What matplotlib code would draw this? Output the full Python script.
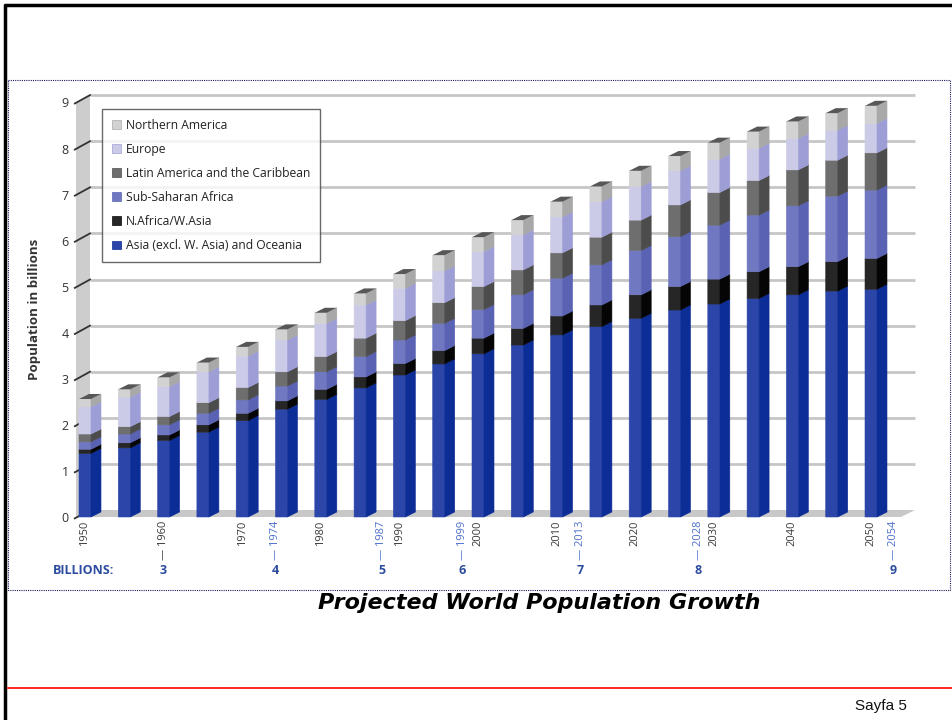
import matplotlib
matplotlib.use("Agg")
import matplotlib.pyplot as plt
from matplotlib.patches import Polygon, Patch, Rectangle

# ---- data (billions) ----
years = list(range(1950, 2051, 5))
asia_oceania = [1.38, 1.50, 1.66, 1.84, 2.09, 2.34, 2.55, 2.80, 3.08, 3.32, 3.54,
                3.73, 3.95, 4.13, 4.31, 4.49, 4.62, 4.74, 4.82, 4.90, 4.94]
nafrica_wasia = [0.09, 0.11, 0.12, 0.16, 0.16, 0.18, 0.22, 0.24, 0.25, 0.29, 0.34,
                 0.36, 0.41, 0.47, 0.51, 0.51, 0.54, 0.58, 0.61, 0.64, 0.67]
subsaharan = [0.16, 0.19, 0.22, 0.25, 0.29, 0.32, 0.38, 0.44, 0.51, 0.59, 0.62,
              0.73, 0.82, 0.87, 0.96, 1.08, 1.17, 1.23, 1.32, 1.42, 1.48]
latin_america = [0.17, 0.16, 0.18, 0.23, 0.27, 0.31, 0.33, 0.40, 0.42, 0.45, 0.50,
                 0.54, 0.55, 0.60, 0.66, 0.69, 0.71, 0.75, 0.78, 0.78, 0.81]
europe = [0.59, 0.64, 0.65, 0.67, 0.68, 0.69, 0.72, 0.72, 0.70, 0.69, 0.76,
          0.76, 0.78, 0.77, 0.73, 0.74, 0.72, 0.70, 0.68, 0.65, 0.64]
northern_america = [0.17, 0.17, 0.20, 0.20, 0.20, 0.23, 0.23, 0.25, 0.31, 0.34, 0.31,
                    0.32, 0.33, 0.33, 0.34, 0.32, 0.36, 0.36, 0.37, 0.37, 0.38]

series = [asia_oceania, nafrica_wasia, subsaharan, latin_america, europe, northern_america]
series_names = ["Asia (excl. W. Asia) and Oceania", "N.Africa/W.Asia", "Sub-Saharan Africa",
                "Latin America and the Caribbean", "Europe", "Northern America"]
front_colors = ["#2b45a8", "#262626", "#7078c2", "#6e6e6e", "#cbcbe8", "#d2d2d2"]
side_colors = ["#0c2c96", "#050505", "#5a62b4", "#4c4c4c", "#9e9ed6", "#a8a8a8"]

year_ticks = list(range(1950, 2051, 10))
milestone_years = [1960, 1974, 1987, 1999, 2013, 2028, 2054]
milestone_billions = [3, 4, 5, 6, 7, 8, 9]
y_ticks = list(range(0, 10))

# horizontal nudges (pixels) that keep milestone labels clear of year labels
milestone_nudge_px = {1974: 2, 1987: 6, 1999: -8, 2054: -9}

# ---- figure / slide ----
W, H = 953, 720
fig = plt.figure(figsize=(W / 100, H / 100), dpi=100)
fig.patch.set_facecolor("white")

deco = fig.add_axes([0, 0, 1, 1])
deco.set_xlim(0, W)
deco.set_ylim(H, 0)
deco.axis("off")
deco.plot([4, W], [5, 5], color="black", lw=2.5, solid_capstyle="butt")
deco.plot([5, 5], [4, H], color="black", lw=2.5, solid_capstyle="butt")
deco.add_patch(Rectangle((8, 80), 942, 510, fill=False, ls=(0, (1, 1)),
                         ec="#1a1a60", lw=0.8))
deco.plot([8, W], [688, 688], color="#ff0000", lw=1.2)
deco.text(539, 603, "Projected World Population Growth", fontsize=16,
          fontweight="bold", style="italic", ha="center", va="center",
          family="DejaVu Sans", color="black")
deco.text(881, 706, "Sayfa 5", fontsize=11, family="Liberation Sans",
          ha="center", va="center", color="#111111")

# ---- chart axes: x in bar-index units, y in billions ----
PX_X, PX_Y = 39.3, 46.1          # pixels per bar step / per billion
X0_PX, Y0_PX = 85, 517           # centre of first bar, baseline
ax = fig.add_axes([40 / W, 1 - 600 / H, 900 / W, 510 / H])
ax.set_xlim((40 - X0_PX) / PX_X, (940 - X0_PX) / PX_X)
ax.set_ylim((Y0_PX - 600) / PX_Y, (Y0_PX - 90) / PX_Y)
ax.axis("off")

def px_x(p):
    return (p - X0_PX) / PX_X

def px_y(p):
    return (Y0_PX - p) / PX_Y

# 3D box: left wall, floor, back-wall gridlines
front_left = px_x(76)
wall_dx, wall_dy = 14 / PX_X, 7 / PX_Y
right_back = px_x(915)
ymax = max(y_ticks)

ax.add_patch(Polygon([(front_left, 0), (front_left + wall_dx, wall_dy),
                      (front_left + wall_dx, ymax + wall_dy), (front_left, ymax)],
                     closed=True, fc="#cdcdcd", ec="none", zorder=1))
for v in y_ticks[1:]:
    ax.plot([front_left + wall_dx, right_back], [v + wall_dy, v + wall_dy],
            color="#c6c6c6", lw=2.0, zorder=1, solid_capstyle="butt")
ax.add_patch(Polygon([(front_left, 0), (right_back - wall_dx, 0),
                      (right_back, wall_dy), (front_left + wall_dx, wall_dy)],
                     closed=True, fc="#c8c8c8", ec="none", zorder=1))

# y ticks (slanted into the wall) and labels
for v in y_ticks:
    ax.plot([front_left - 0.03, front_left + wall_dx], [v - 0.03, v + wall_dy],
            color="#333333", lw=1.3, zorder=2)
    ax.text(px_x(65), v - 0.04, str(v), ha="center", va="center", fontsize=9,
            color="#333333", family="Open Sans")
ax.text(px_x(35), px_y(309), "Population in billions", rotation=90,
        ha="center", va="center", fontsize=9.6, fontweight="bold",
        color="#333333", family="Open Sans")

# stacked 3D bars
xs = [(y - years[0]) / 5 for y in years]
bw = 12 / PX_X
ddx, ddy = 10 / PX_X, 5 / PX_Y
bottoms = [0.0] * len(years)
for k, vals in enumerate(series):
    ax.bar(xs, vals, bottom=bottoms, width=bw, color=front_colors[k],
           edgecolor=front_colors[k], linewidth=0.4, snap=False, zorder=3)
    for i, x in enumerate(xs):
        b, h = bottoms[i], vals[i]
        xr = x + bw / 2
        ax.add_patch(Polygon([(xr, b), (xr + ddx, b + ddy), (xr + ddx, b + h + ddy),
                              (xr, b + h)], closed=True, fc=side_colors[k],
                             ec=side_colors[k], lw=0.4, snap=False, zorder=3))
    bottoms = [b + v for b, v in zip(bottoms, vals)]

for i, x in enumerate(xs):
    t = bottoms[i]
    xl = x - bw / 2
    ax.add_patch(Polygon([(xl, t), (xl + bw, t), (xl + bw + ddx, t + ddy),
                          (xl + ddx, t + ddy)], closed=True, fc="#575757",
                         ec="none", zorder=4))

# year labels and billion milestones
label_top = px_y(521)
for yr in year_ticks:
    txt = f"— {yr}" if yr in milestone_years else str(yr)
    ax.text((yr - years[0]) / 5, label_top, txt, rotation=90, ha="center", va="top",
            fontsize=8, color="#3a3a3a", family="Open Sans")
for yr in milestone_years:
    if yr not in year_ticks:
        xm = (yr - years[0]) / 5 + milestone_nudge_px.get(yr, 0) / PX_X
        ax.text(xm, label_top, f"— {yr}", rotation=90, ha="center",
                va="top", fontsize=8, color="#4d6fcc", family="Open Sans")

billion_row = px_y(570)
ax.text(px_x(53), billion_row, "BILLIONS:", ha="left", va="center", fontsize=9,
        fontweight="bold", color="#2c4c9f", family="Open Sans")
for yr, b in zip(milestone_years, milestone_billions):
    xm = (yr - years[0]) / 5 + milestone_nudge_px.get(yr, 0) / PX_X
    ax.text(xm, billion_row, str(b), ha="center", va="center",
            fontsize=9, fontweight="bold", color="#2c4c9f", family="Open Sans")

# legend (top series first)
handles = [Patch(facecolor=front_colors[k], edgecolor=side_colors[k], lw=0.5)
           for k in range(len(series))][::-1]
leg = ax.legend(handles, series_names[::-1], loc="upper left",
                bbox_to_anchor=(102 / W, 1 - 109 / H), bbox_transform=fig.transFigure,
                frameon=True, fancybox=False, edgecolor="#444444",
                handlelength=0.75, handleheight=0.75, labelspacing=0.92,
                handletextpad=0.45, borderpad=0.8, borderaxespad=0,
                prop={"family": "Open Sans", "size": 8.7})
leg.get_frame().set_linewidth(1.0)
leg.set_zorder(6)
for t in leg.get_texts():
    t.set_color("#222222")

fig.savefig("out.png", dpi=100, facecolor="white")
